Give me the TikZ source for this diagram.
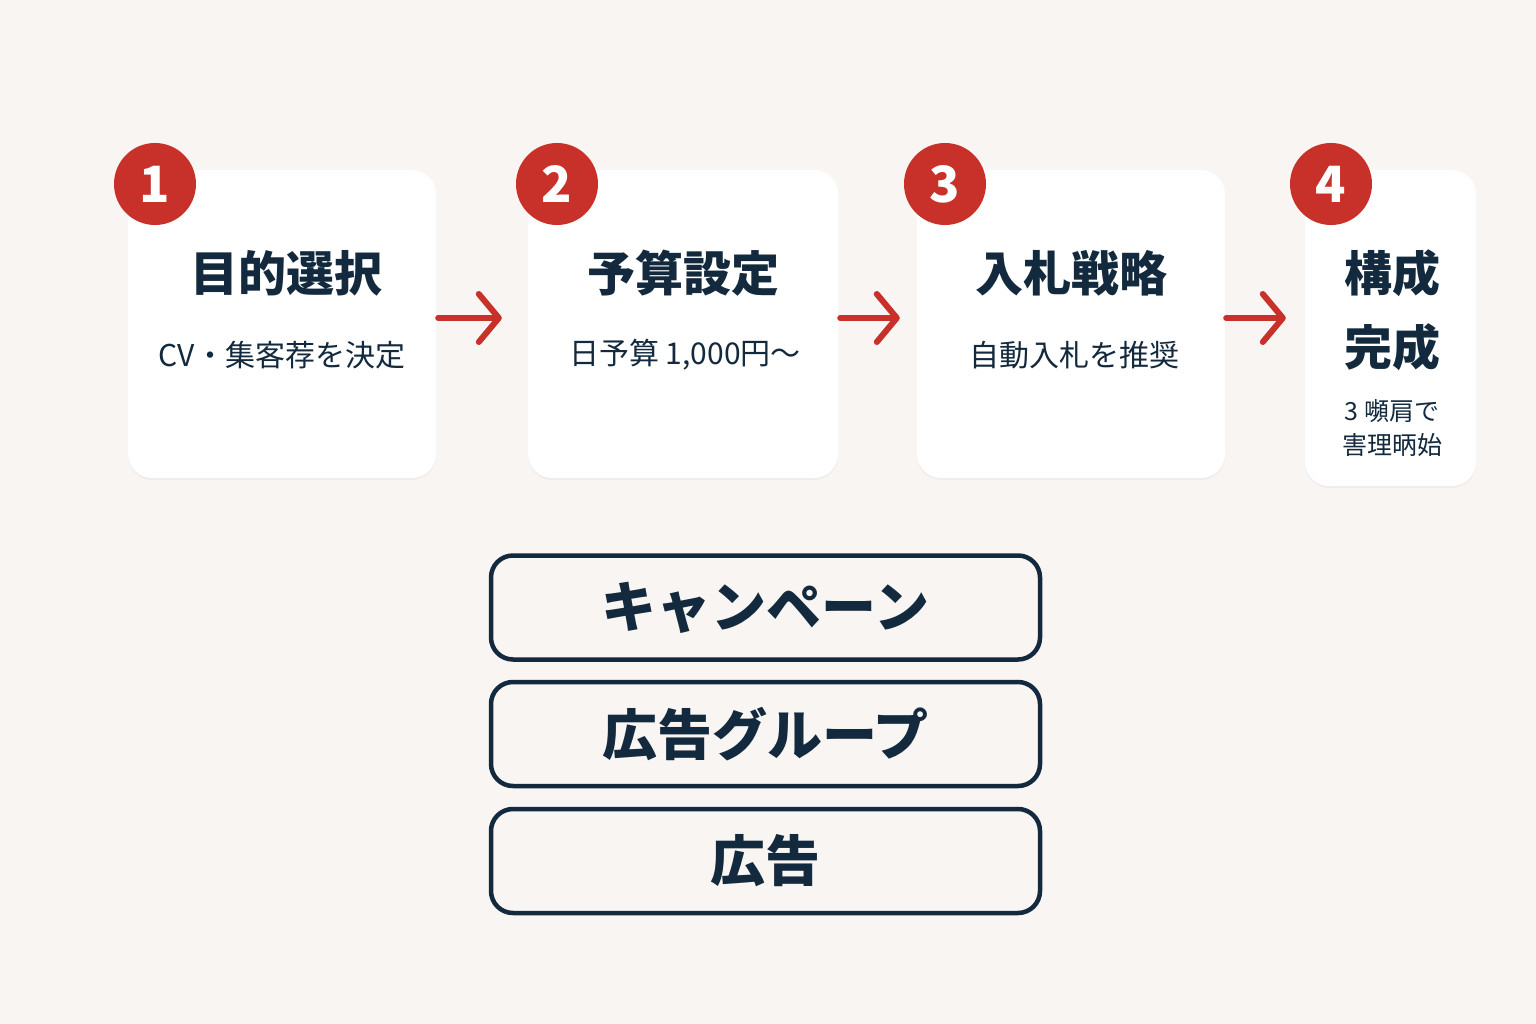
\documentclass[tikz,border=0pt]{standalone}
\usepackage{fontspec}
\setmainfont{Noto Sans CJK JP}
\usetikzlibrary{arrows.meta,shadows,positioning}
\definecolor{bgcol}{HTML}{F8F5F2}
\definecolor{inkcol}{HTML}{13293D}
\definecolor{stepred}{HTML}{C8302A}
\tikzset{
    card/.style={fill=white, rounded corners=24pt, minimum height=308pt,
        drop shadow={opacity=0.07, shadow xshift=0pt, shadow yshift=-2pt}},
    badge/.style={circle, fill=stepred, minimum size=82pt, inner sep=0pt,
        text=white, font=\fontsize{50}{50}\selectfont\bfseries},
    steptitle/.style={text=inkcol, inner sep=0pt, font=\fontsize{48}{48}\selectfont\bfseries},
    stepnote/.style={text=inkcol, inner sep=0pt, font=\fontsize{30}{30}\selectfont},
    smallnote/.style={text=inkcol, inner sep=0pt, font=\fontsize{25}{25}\selectfont},
    flow/.style={draw=stepred, line width=6pt, line cap=round,
        -{Straight Barb[length=20pt, width=48pt, round]}},
    level/.style={draw=inkcol, line width=4.5pt, fill=bgcol, rounded corners=22pt,
        minimum width=549pt, minimum height=104pt, text=inkcol,
        font=\fontsize{55}{55}\selectfont\bfseries}
}

\begin{document}
\begin{tikzpicture}[x=1pt, y=-1pt]
    \fill[bgcol] (0,0) rectangle (1536,1024);
    \useasboundingbox (0,0) rectangle (1536,1024);

    \node[card, minimum width=308pt] (c1) at (282,324) {};
    \node[card, minimum width=310pt] (c2) at (683,324) {};
    \node[card, minimum width=308pt] (c3) at (1071,324) {};
    \node[card, minimum width=171pt, minimum height=316pt] (c4) at (1390.5,328) {};

    \node[badge] (b1) at (155,184) {1};
    \node[badge] (b2) at (557,184) {2};
    \node[badge] (b3) at (945,184) {3};
    \node[badge] (b4) at (1331,184) {4};

    \node[steptitle] (t1) at (286,273) {目的選択};
    \node[stepnote] (s1) at (282,355) {CV・集客荐を決定};
    \node[steptitle] (t2) at (683,273) {予算設定};
    \node[stepnote] (s2) at (685,355) {日予算 1,000円〜};
    \node[steptitle] (t3) at (1071,273) {入札戦略};
    \node[stepnote] (s3) at (1074,355) {自動入札を推奨};
    \node[steptitle] (t4) at (1392,273) {構成};
    \node[steptitle] (t4b) at (1392,347) {完成};
    \node[smallnote] (s4) at (1392,411) {3 嚬肩で};
    \node[smallnote] (s4b) at (1392,445) {害理昞始};

    \draw[flow, shorten <=2pt, shorten >=26pt] ([yshift=6pt]c1.east) -- ([yshift=6pt]c2.west);
    \draw[flow, shorten <=2pt, shorten >=17pt] ([yshift=6pt]c2.east) -- ([yshift=6pt]c3.west);
    \draw[flow, shorten <=1pt, shorten >=19pt] ([yshift=6pt]c3.east) -- ([yshift=10pt]c4.west);

    \node[level] (campaign) at (765.5,607.5) {キャンペーン};
    \node[level] (adgroup) at (765.5,734) {広告グループ};
    \node[level] (ad) at (765.5,861) {広告};
\end{tikzpicture}
\end{document}
